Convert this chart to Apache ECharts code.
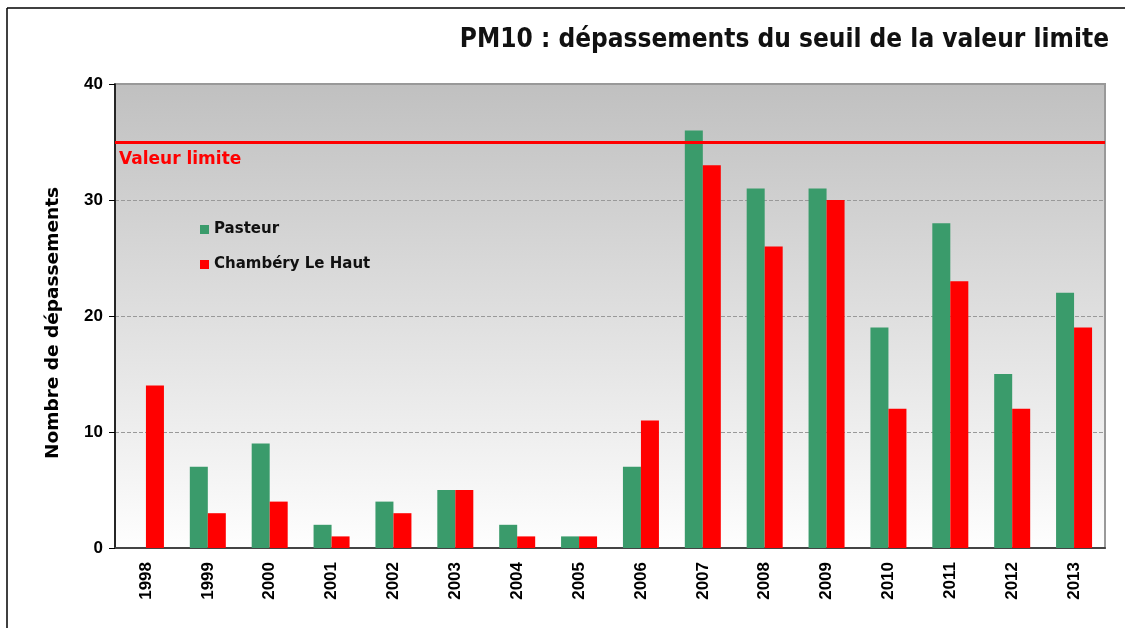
<!DOCTYPE html>
<html>
<head>
<meta charset="utf-8">
<script src="https://cdn.jsdelivr.net/npm/echarts@6/dist/echarts.min.js"></script>
<style>
  html, body { margin: 0; padding: 0; background: #fff; }
  #chart { width: 1125px; height: 628px; }
</style>
</head>
<body>
<div id="chart"></div>
<script>
// data
const years = ['1998', '1999', '2000', '2001', '2002', '2003', '2004', '2005',
  '2006', '2007', '2008', '2009', '2010', '2011', '2012', '2013']
const pasteur = [null, 7, 9, 2, 4, 5, 2, 1, 7, 36, 31, 31, 19, 28, 15, 22]
const chambery = [14, 3, 4, 1, 3, 5, 1, 1, 11, 33, 26, 30, 12, 23, 12, 19]
const limitValue = 35
const yTicks = { min: 0, max: 40, interval: 10 }

const chart = echarts.init(document.getElementById('chart'))

chart.setOption({
  animation: false,
  title: {
    text: 'PM10 : dépassements du seuil de la valeur limite',
    right: 11,
    top: 22,
    textStyle: {
      fontFamily: 'DejaVu Sans Condensed',
      fontWeight: 'bold',
      fontSize: 26,
      color: '#111'
    }
  },
  graphic: [
    { type: 'line', shape: { x1: 7, y1: 8, x2: 1125, y2: 8 }, style: { stroke: '#000', lineWidth: 1.5 } },
    { type: 'line', shape: { x1: 7, y1: 8, x2: 7, y2: 628 }, style: { stroke: '#000', lineWidth: 1.5 } }
  ],
  legend: {
    orient: 'vertical',
    left: 195,
    top: 217,
    itemWidth: 9,
    itemHeight: 9,
    itemGap: 20,
    icon: 'rect',
    textStyle: {
      fontFamily: 'DejaVu Sans',
      fontWeight: 'bold',
      fontSize: 15,
      color: '#111'
    },
    data: ['Pasteur', 'Chambéry Le Haut']
  },
  grid: {
    left: 115,
    right: 20,
    top: 84,
    bottom: 80,
    show: true,
    borderColor: '#999',
    borderWidth: 2,
    backgroundColor: {
      type: 'linear', x: 0, y: 0, x2: 0, y2: 1,
      colorStops: [
        { offset: 0, color: '#c0c0c0' },
        { offset: 1, color: '#fefefe' }
      ]
    }
  },
  xAxis: {
    type: 'category',
    data: years,
    axisLine: { lineStyle: { color: '#444', width: 2 } },
    axisTick: { length: 6, lineStyle: { color: '#222' } },
    axisLabel: {
      rotate: 90,
      margin: 14,
      color: '#000',
      fontFamily: 'Liberation Sans',
      fontWeight: 'bold',
      fontSize: 17
    }
  },
  yAxis: {
    type: 'value',
    min: yTicks.min,
    max: yTicks.max,
    interval: yTicks.interval,
    name: 'Nombre de dépassements',
    nameLocation: 'middle',
    nameGap: 52,
    nameTextStyle: {
      fontFamily: 'DejaVu Sans',
      fontWeight: 'bold',
      fontSize: 18.5,
      color: '#000',
      padding: [0, 14, 0, 0]
    },
    axisLine: { show: true, lineStyle: { color: '#000', width: 1.5 } },
    axisTick: { show: true, length: 6, lineStyle: { color: '#000' } },
    axisLabel: {
      margin: 12,
      color: '#000',
      fontFamily: 'Liberation Sans',
      fontWeight: 'bold',
      fontSize: 17
    },
    splitLine: { lineStyle: { color: '#999', type: 'dashed', width: 1 } }
  },
  series: [{
    name: 'Pasteur',
    type: 'bar',
    barWidth: 18,
    barGap: '0%',
    data: pasteur,
    itemStyle: { color: '#3a9b6b' },
    markLine: {
      silent: true,
      symbol: 'none',
      lineStyle: { color: '#ff0000', width: 3, type: 'solid' },
      label: {
        position: 'insideStartBottom',
        formatter: 'Valeur limite',
        distance: [4, 9],
        color: '#ff0000',
        fontFamily: 'DejaVu Sans',
        fontWeight: 'bold',
        fontSize: 17
      },
      data: [{ yAxis: limitValue }]
    }
  }, {
    name: 'Chambéry Le Haut',
    type: 'bar',
    barWidth: 18,
    data: chambery,
    itemStyle: { color: '#ff0000' }
  }]
})
</script>
</body>
</html>
